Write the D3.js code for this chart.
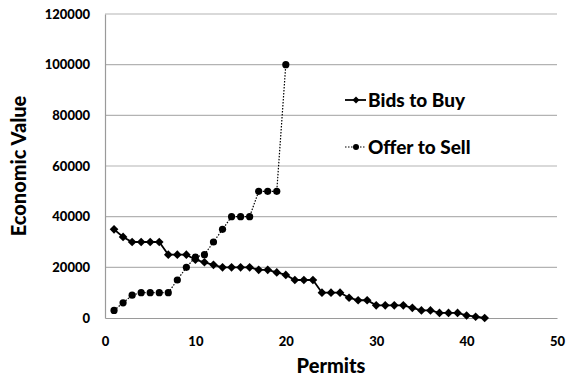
<!DOCTYPE html>
<html>
<head>
<meta charset="utf-8">
<script src="https://cdn.jsdelivr.net/npm/d3@7"></script>
<style>
  body { margin: 0; background: #fff; }
  svg text { font-family: Lato, "Open Sans", sans-serif; font-weight: 900; fill: #000; }
</style>
</head>
<body>
<svg id="chart" width="573" height="381"></svg>
<script>
// Demand: bids to buy, permits 1..42
const bidPermits = d3.range(1, 43);
const bidValues = [35000, 32000, 30000, 30000, 30000, 30000, 25000, 25000, 25000, 23000,
  22000, 21000, 20000, 20000, 20000, 20000, 19000, 19000, 18000, 17000,
  15000, 15000, 15000, 10000, 10000, 10000, 8000, 7000, 7000, 5000,
  5000, 5000, 5000, 4000, 3000, 3000, 2000, 2000, 2000, 1000,
  500, 0];
// Supply: offers to sell, permits 1..20
const offerPermits = d3.range(1, 21);
const offerValues = [3000, 6000, 9000, 10000, 10000, 10000, 10000, 15000, 20000, 24000,
  25000, 30000, 35000, 40000, 40000, 40000, 50000, 50000, 50000, 100000];
const xTicks = [0, 10, 20, 30, 40, 50];
const yTicks = [0, 20000, 40000, 60000, 80000, 100000, 120000];
const seriesNames = ["Bids to Buy", "Offer to Sell"];

const svg = d3.select("#chart");
const margin = { left: 105, right: 16, top: 14, bottom: 63 };
const W = 573, H = 381;

const x = d3.scaleLinear().domain([0, 50]).range([margin.left, W - margin.right]);
const y = d3.scaleLinear().domain([0, 120000]).range([H - margin.bottom, margin.top]);

// horizontal gridlines
svg.append("g").selectAll("line").data(yTicks.filter(t => t > 0)).join("line")
  .attr("x1", x(0)).attr("x2", x(50))
  .attr("y1", d => y(d)).attr("y2", d => y(d))
  .attr("stroke", "#b3b3b3").attr("stroke-width", 1.2);

// axes
const xAxis = svg.append("g").attr("transform", `translate(0,${y(0)})`)
  .call(d3.axisBottom(x).tickValues(xTicks).tickSize(0).tickPadding(19));
const yAxis = svg.append("g").attr("transform", `translate(${x(0)},0)`)
  .call(d3.axisLeft(y).tickValues(yTicks).tickSize(0).tickPadding(15).tickFormat(d3.format("d")));
[xAxis, yAxis].forEach(g => {
  g.select(".domain").attr("stroke", "#9a9a9a").attr("stroke-width", 1.2);
  g.selectAll("text").style("font-size", "13px").style("font-family", "Lato, 'Open Sans', sans-serif").style("font-weight", "900");
});

// axis titles
svg.append("text").attr("x", (x(0) + x(50)) / 2).attr("y", 373)
  .attr("text-anchor", "middle").style("font-size", "20px").text("Permits");
svg.append("text").attr("transform", `translate(26,${(y(0) + y(120000)) / 2}) rotate(-90)`)
  .attr("text-anchor", "middle").style("font-size", "20px").text("Economic Value");

const line = d3.line().x(d => x(d[0])).y(d => y(d[1]));
const bids = bidPermits.map((p, i) => [p, bidValues[i]]);
const offers = offerPermits.map((p, i) => [p, offerValues[i]]);

const diamond = d3.symbol().type(d3.symbolDiamond2).size(48);

// offers: dotted line with round markers
svg.append("path").datum(offers).attr("d", line)
  .attr("fill", "none").attr("stroke", "#000").attr("stroke-width", 1.2)
  .attr("stroke-dasharray", "1.5,1.5");
svg.append("g").selectAll("circle").data(offers).join("circle")
  .attr("cx", d => x(d[0])).attr("cy", d => y(d[1])).attr("r", 3.6).attr("fill", "#000");

// bids: solid line with diamond markers
svg.append("path").datum(bids).attr("d", line)
  .attr("fill", "none").attr("stroke", "#000").attr("stroke-width", 1.8);
svg.append("g").selectAll("path").data(bids).join("path")
  .attr("transform", d => `translate(${x(d[0])},${y(d[1])})`)
  .attr("d", diamond).attr("fill", "#000");

// legend
const legend = svg.append("g");
const rows = [
  { name: seriesNames[0], y: 100, dash: null, marker: "diamond" },
  { name: seriesNames[1], y: 147, dash: "1.5,1.5", marker: "circle" }
];
rows.forEach(r => {
  legend.append("line").attr("x1", 345).attr("x2", 366).attr("y1", r.y).attr("y2", r.y)
    .attr("stroke", "#000").attr("stroke-width", r.dash ? 1.2 : 1.8)
    .attr("stroke-dasharray", r.dash);
  if (r.marker === "diamond") {
    legend.append("path").attr("transform", `translate(356,${r.y})`)
      .attr("d", d3.symbol().type(d3.symbolDiamond2).size(32)).attr("fill", "#000");
  } else {
    legend.append("circle").attr("cx", 356).attr("cy", r.y).attr("r", 3).attr("fill", "#000");
  }
  legend.append("text").attr("x", 368).attr("y", r.y).attr("dy", "0.36em")
    .style("font-size", "19px").text(r.name);
});
</script>
</body>
</html>
